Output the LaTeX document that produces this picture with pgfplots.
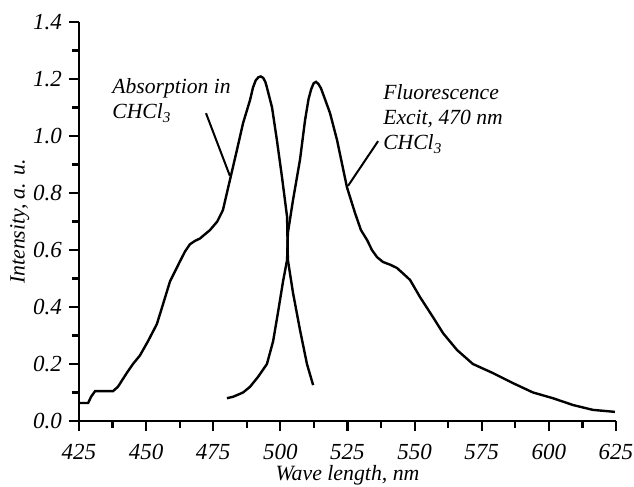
\documentclass[border=0pt]{standalone}
\usepackage{fontspec}
\setmainfont{Liberation Serif}
\usepackage{pgfplots}
\pgfplotsset{compat=1.18}
\begin{document}
\begin{tikzpicture}
\useasboundingbox (-39.5pt,-33pt) rectangle (277.5pt,210.5pt);
\begin{axis}[
  at={(0,0)}, anchor=south west,
  scale only axis, width=268.5pt, height=199.5pt,
  xmin=425, xmax=625, ymin=0, ymax=1.4,
  axis x line*=bottom, axis y line*=left,
  axis line style={line width=1.1pt, -},
  xtick={425,450,...,625}, minor x tick num=1,
  ytick={0,0.2,...,1.4}, minor y tick num=1,
  tick align=outside,
  major tick length=5pt, minor tick length=3.5pt,
  every tick/.style={line width=1.1pt, black},
  xticklabel style={font=\fontsize{11.5}{13}\selectfont\itshape, yshift=-3pt},
  yticklabel style={font=\fontsize{11.5}{13}\selectfont\itshape, /pgf/number format/fixed, /pgf/number format/fixed zerofill, /pgf/number format/precision=1, xshift=0pt},
  /pgf/number format/assume math mode=true,
  xlabel={Wave length, nm}, ylabel={Intensity, a. u.},
  xlabel style={font=\fontsize{10.9}{12}\selectfont\itshape, yshift=4pt},
  ylabel style={font=\fontsize{10.9}{12}\selectfont\itshape, yshift=-5pt},
  clip=false,
]
% Absorption
\addplot[black, line width=1.2pt] coordinates {
(425,0.063)(428.4,0.063)(429.5,0.085)(431,0.105)(437.7,0.105)(439.5,0.12)(442.9,0.17)(445.1,0.20)(447.7,0.23)(450.7,0.28)(454,0.34)(456.3,0.41)(458.9,0.49)(462.6,0.56)(464.5,0.595)(466.3,0.62)(468.2,0.632)(470,0.64)(473.8,0.67)(476.5,0.70)(478.6,0.74)(481.2,0.845)(483.8,0.95)(486.1,1.045)(488.7,1.126)(489.8,1.17)(490.8,1.195)(491.8,1.206)(492.7,1.209)(493.6,1.204)(494.4,1.19)(495,1.17)(496.9,1.10)(498.7,0.986)(500.6,0.856)(502.5,0.716)(502.8,0.565)(504.7,0.45)(507.3,0.32)(509.9,0.20)(512.2,0.126)
};
% Fluorescence
\addplot[black, line width=1.2pt] coordinates {
(480.1,0.08)(482.4,0.085)(486.1,0.10)(488.7,0.12)(491.7,0.155)(495,0.20)(497.3,0.28)(499.1,0.38)(501,0.49)(502.5,0.565)(502.8,0.66)(504.7,0.775)(507.3,0.916)(509.2,1.056)(510.5,1.13)(511.5,1.165)(512.4,1.185)(513.3,1.19)(514.2,1.182)(515.1,1.168)(516.2,1.14)(518.5,1.08)(521.1,0.986)(524.8,0.82)(527.8,0.73)(530,0.67)(532.3,0.635)(534.1,0.60)(536,0.575)(538.2,0.558)(541,0.548)(543.4,0.537)(546,0.515)(548.3,0.495)(552,0.435)(556.8,0.365)(560.6,0.308)(565.8,0.249)(571.7,0.20)(579.2,0.168)(586.6,0.133)(594.1,0.10)(601.5,0.08)(609,0.056)(616.4,0.039)(624.6,0.032)
};
\draw[line width=1pt] (axis cs:472.3,1.08) -- (axis cs:481.2,0.86);
\draw[line width=1pt] (axis cs:536.4,0.982) -- (axis cs:525.2,0.825);
\node[anchor=west, align=left, font=\fontsize{10.8}{12.6}\selectfont\itshape, inner sep=0pt] at (axis cs:437.3,1.125) {Absorption in\\CHCl\textsubscript{3}};
\node[anchor=west, align=left, font=\fontsize{10.8}{12.6}\selectfont\itshape, inner sep=0pt] at (axis cs:538.2,1.06) {Fluorescence\\Excit, 470 nm\\CHCl\textsubscript{3}};
\end{axis}
\end{tikzpicture}
\end{document}
